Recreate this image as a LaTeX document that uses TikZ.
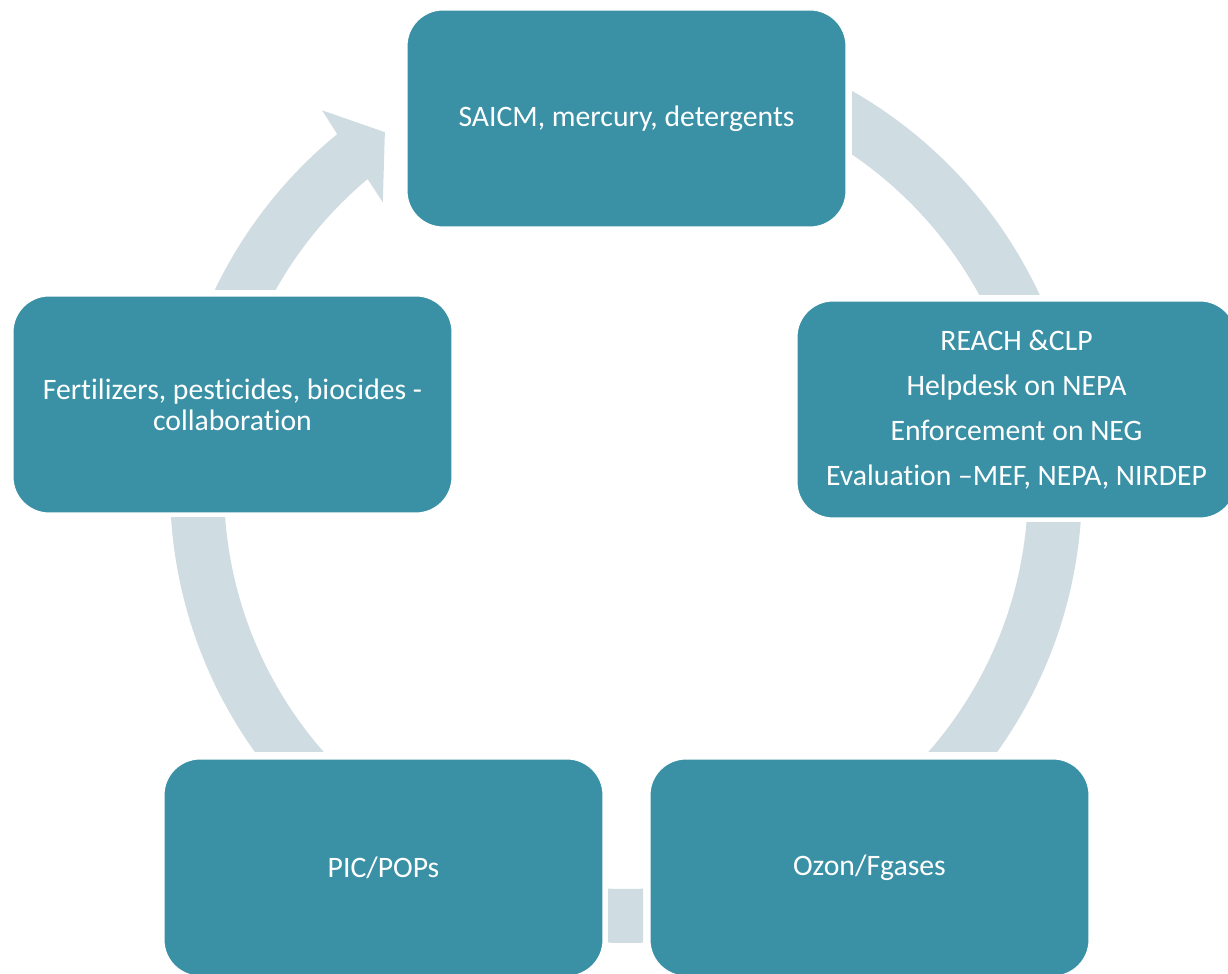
\documentclass[tikz,border=0pt]{standalone}
\usepackage{fontspec}
\setmainfont{Carlito}[Ligatures=NoCommon]
\usetikzlibrary{positioning}
\definecolor{stagefill}{RGB}{58,145,166}
\definecolor{bandfill}{RGB}{207,221,227}
\tikzset{
  stage/.style={rectangle,rounded corners=0.72cm,fill=stagefill,draw=white,line width=0.6pt,
    minimum width=8.78cm,minimum height=4.34cm,text=white,align=center,
    font=\fontsize{16.9}{17.6}\selectfont},
  loose/.style={font=\fontsize{16.9}{25.6}\selectfont},
  band/.style={fill=bandfill}
}

\begin{document}
\begin{tikzpicture}[x=0.02cm,y=0.02cm]
    \useasboundingbox (0,0) rectangle (1228,974);
    \coordinate (c) at (626,487);

    % ring pieces between the boxes
    \begin{scope}
      \clip (852,679) rectangle (1228,974);
      \fill[band,even odd rule] (c) circle[radius=456] (c) circle[radius=402];
    \end{scope}
    \begin{scope}
      \clip (626,222) rectangle (1228,451);
      \fill[band,even odd rule] (c) circle[radius=456] (c) circle[radius=402];
    \end{scope}
    \begin{scope}
      \clip (608,0) rectangle (643,200);
      \fill[band,even odd rule] (c) circle[radius=456] (c) circle[radius=402];
    \end{scope}
    \begin{scope}
      \clip (0,222) rectangle (626,456);
      \fill[band,even odd rule] (c) circle[radius=456] (c) circle[radius=402];
    \end{scope}

    % the one arrow head, pointing at the top box
    \begin{scope}
      \clip (0,684) rectangle (626,974);
      \fill[band] ([shift={(165:456)}]c) arc[start angle=165,end angle=129.3,radius=456]
        -- ([shift={(128.9:484)}]c) -- ([shift={(124.2:429)}]c)
        -- ([shift={(130.5:374.5)}]c) -- ([shift={(130:402)}]c)
        arc[start angle=130,end angle=165,radius=402] -- cycle;
    \end{scope}

    % the five boxes
    \node[stage] (saicm) at (626.5,855.5) {SAICM, mercury, detergents};
    \node[stage,loose] (reach) at (1016.5,564.5)
      {REACH \&CLP\\Helpdesk on NEPA\\Enforcement on NEG\\Evaluation –MEF, NEPA, NIRDEP};
    \node[stage] (ozon) at (869.5,106.5) {Ozon/Fgases};
    \node[stage] (pic) at (383.5,106.5) {PIC/POPs};
    \node[stage] (fert) at (232.5,569.5) {Fertilizers, pesticides, biocides -\\collaboration};
\end{tikzpicture}
\end{document}
